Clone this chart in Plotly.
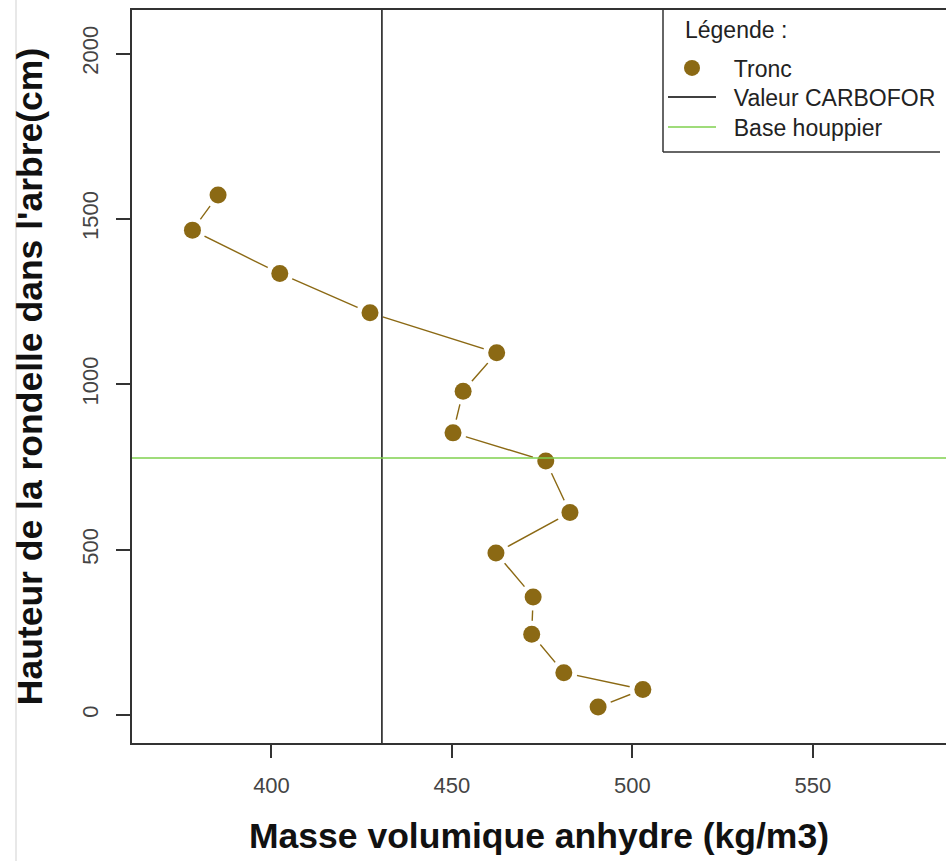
import plotly.graph_objects as go

# Data (sorted by height)
hauteur_cm = [24, 77, 128, 244, 357, 490, 612, 768, 853, 979, 1095, 1216, 1335, 1466, 1572]
masse_vol = [490.5, 502.9, 481.0, 472.1, 472.5, 462.2, 482.7, 476.0, 450.3, 453.1, 462.4, 427.3, 402.3, 378.1, 385.2]
valeur_carbofor = 430.6
base_houppier = 777
x_ticks = [400, 450, 500, 550]
y_ticks = [0, 500, 1000, 1500, 2000]

BROWN = "#8B6914"
GREEN = "#7FD04E"
FONT = "Liberation Sans, Arial, sans-serif"
NB = "\u00a0\u00a0"

W, H = 946, 861
L, R, T, B = 132, 0, 10, 118
PW, PH = W - L - R, H - T - B


def px_x(p):
    return (p - L) / PW


def px_y(p):
    return 1 - (p - T) / PH


fig = go.Figure()
# connecting line (type "b")
fig.add_trace(go.Scatter(x=masse_vol, y=hauteur_cm, mode="lines",
                         line=dict(color=BROWN, width=1.4), showlegend=False, hoverinfo="skip"))
# white halo to create gaps around points
fig.add_trace(go.Scatter(x=masse_vol, y=hauteur_cm, mode="markers",
                         marker=dict(color="white", size=27, line=dict(width=0)),
                         showlegend=False, hoverinfo="skip"))
fig.add_trace(go.Scatter(x=masse_vol, y=hauteur_cm, mode="markers", name=NB + "Tronc",
                         marker=dict(color=BROWN, size=17, line=dict(width=0)), legend="legend"))
# legend entries for reference lines
fig.add_trace(go.Scatter(x=[None], y=[None], mode="lines", name=NB + "Valeur CARBOFOR",
                         line=dict(color="black", width=1.4), legend="legend2"))
fig.add_trace(go.Scatter(x=[None], y=[None], mode="lines", name=NB + "Base houppier",
                         line=dict(color=GREEN, width=1.4), legend="legend3"))

fig.add_shape(type="line", xref="x", yref="paper", x0=valeur_carbofor, x1=valeur_carbofor,
              y0=0, y1=1, line=dict(color="black", width=1.4), layer="above")
fig.add_shape(type="line", xref="paper", yref="y", x0=0, x1=1, y0=base_houppier, y1=base_houppier,
              line=dict(color=GREEN, width=1.4), layer="above")
# faint screenshot border on the left
fig.add_shape(type="line", xref="paper", yref="paper", x0=px_x(16), x1=px_x(16), y0=-0.2, y1=1.02,
              line=dict(color="#E8E8E8", width=2), layer="below")
# legend box (right side falls outside the picture)
lx, by = px_x(663), px_y(152)
fig.add_shape(type="line", xref="paper", yref="paper", x0=lx, x1=lx, y0=by, y1=1,
              line=dict(color="#333333", width=1.5), layer="above")
fig.add_shape(type="line", xref="paper", yref="paper", x0=lx, x1=px_x(940), y0=by, y1=by,
              line=dict(color="#333333", width=1.5), layer="above")
fig.add_annotation(text="Légende :", xref="paper", yref="paper", x=px_x(683), y=px_y(30),
                   xanchor="left", yanchor="middle", showarrow=False,
                   font=dict(size=23, color="#222222", family=FONT))

leg_common = dict(font=dict(size=23, color="#222222"), xref="paper", yref="paper",
                  xanchor="left", yanchor="middle", borderwidth=0,
                  bgcolor="rgba(0,0,0,0)", itemwidth=48)

fig.update_layout(
    width=W, height=H,
    margin=dict(l=L, r=R, t=T, b=B),
    paper_bgcolor="white", plot_bgcolor="white",
    font=dict(family=FONT, color="#333333"),
    showlegend=True,
    legend=dict(x=px_x(663), y=px_y(68), **leg_common),
    legend2=dict(x=px_x(663), y=px_y(97), **leg_common),
    legend3=dict(x=px_x(663), y=px_y(127), **leg_common),
    xaxis=dict(
        range=[361.35, 586.9], tickvals=x_ticks, ticktext=[str(v) for v in x_ticks],
        showgrid=False, zeroline=False,
        showline=True, linecolor="#333333", linewidth=1.5, mirror=True,
        ticks="outside", ticklen=13, tickwidth=1.5, tickcolor="#333333",
        tickfont=dict(size=22, color="#444444"), ticklabelstandoff=9,
        title=dict(text="<b>Masse volumique anhydre (kg/m3)</b>",
                   font=dict(size=35.5, color="#111111"), standoff=26),
    ),
    yaxis=dict(
        range=[-84.7, 2131.6], tickvals=y_ticks, ticktext=[str(v) for v in y_ticks],
        showgrid=False, zeroline=False,
        showline=True, linecolor="#333333", linewidth=1.5, mirror=False,
        ticks="outside", ticklen=14, tickwidth=1.5, tickcolor="#333333",
        tickfont=dict(size=22, color="#444444"), tickangle=-90, ticklabelstandoff=9,
        title=dict(text="<b>Hauteur de la rondelle dans l'arbre(cm)</b>",
                   font=dict(size=35.5, color="#111111"), standoff=25),
    ),
)

fig.write_html("out.html")
